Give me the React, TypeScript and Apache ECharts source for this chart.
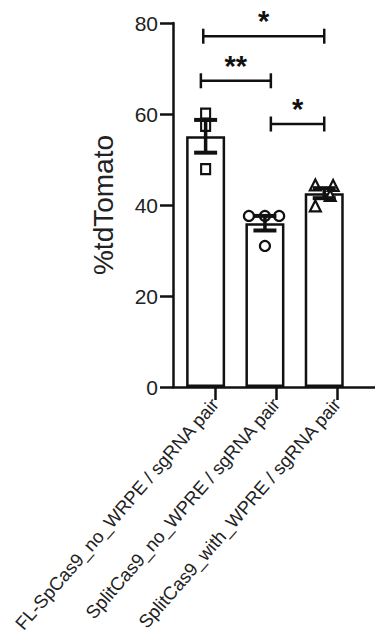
import React, { useEffect, useRef } from "react";
import * as echarts from "echarts";

const categories = [
  "FL-SpCas9_no_WRPE / sgRNA pair",
  "SplitCas9_no_WPRE / sgRNA pair",
  "SplitCas9_with_WPRE / sgRNA pair",
];
const means = [55.1, 36.0, 42.6];
const sems = [3.6, 1.6, 1.1];
const group1Points = [60.1, 57.4, 47.9];
const group2Points = [37.6, 37.6, 37.6, 31.0];
const group3Points = [44.4, 44.3, 39.8, 42.1];
const group1Jitter = [0, 0, 0];
const group2Jitter = [-0.27, 0.24, 0, 0];
const group3Jitter = [-0.15, 0.15, -0.15, 0.1];
const yTicks = [0, 20, 40, 60, 80];
const bracketFrom = [-0.04, -0.08, 1.1];
const bracketTo = [2.0, 1.1, 2.0];
const bracketLevel = [77.1, 67.3, 57.8];
const bracketStars = ["*", "**", "*"];

const FONT = "'Liberation Sans', Arial, Helvetica, sans-serif";
const INK = "#111";
const TEXT = "#222";

export default function App() {
  const ref = useRef<HTMLDivElement>(null);

  useEffect(() => {
    if (!ref.current) return;
    const chart = echarts.init(ref.current, undefined, { renderer: "svg" });

    const bracketData = bracketFrom.map((f, i) => [f, bracketTo[i], bracketLevel[i]]);
    const errData = means.map((m, i) => [i, m, sems[i]]);

    const option: any = {
      animation: false,
      backgroundColor: "#fff",
      textStyle: { fontFamily: FONT },
      grid: [
        { left: 173, right: 0, top: 23, bottom: 253, containLabel: false },
        { left: 184.5, width: 183, top: 23, bottom: 253, containLabel: false },
      ],
      xAxis: [
        {
          type: "value",
          gridIndex: 0,
          min: -0.55,
          max: 2.856,
          axisLine: { show: true, onZero: false, lineStyle: { color: INK, width: 2.5 } },
          axisTick: { show: false },
          axisLabel: { show: false },
          splitLine: { show: false },
        },
        {
          type: "category",
          gridIndex: 1,
          data: categories,
          axisLine: { show: false },
          axisTick: { show: true, alignWithLabel: true, length: 13, lineStyle: { color: INK, width: 2.5 } },
          axisLabel: {
            interval: 0,
            rotate: 49,
            margin: 14,
            fontSize: 18.5,
            color: TEXT,
            fontFamily: FONT,
          },
          splitLine: { show: false },
        },
      ],
      yAxis: [
        {
          type: "value",
          gridIndex: 0,
          min: yTicks[0],
          max: yTicks[yTicks.length - 1],
          interval: yTicks[1] - yTicks[0],
          name: "%tdTomato",
          nameLocation: "middle",
          nameRotate: 90,
          nameGap: 56,
          nameTextStyle: { fontSize: 28, color: TEXT, fontFamily: FONT },
          axisLine: { show: true, onZero: false, lineStyle: { color: INK, width: 2.5 } },
          axisTick: { show: true, length: 13, lineStyle: { color: INK, width: 2.5 } },
          axisLabel: { margin: 15, fontSize: 21, color: TEXT, fontFamily: FONT },
          splitLine: { show: false },
        },
        { type: "value", gridIndex: 1, show: false, min: 0, max: 80 },
      ],
      series: [
        {
          type: "bar",
          xAxisIndex: 0,
          yAxisIndex: 0,
          barWidth: 39,
          z: 2,
          data: means.map((m, i) => [i, m]),
          itemStyle: { color: "#fff", borderColor: INK, borderWidth: 2.5 },
        },
        {
          type: "scatter",
          xAxisIndex: 0,
          yAxisIndex: 0,
          z: 3,
          symbol: "rect",
          symbolSize: [9, 10],
          data: group1Points.map((v, k) => [0 + group1Jitter[k], v]),
          itemStyle: { color: "#fff", borderColor: INK, borderWidth: 2.2, opacity: 1 },
        },
        {
          type: "scatter",
          xAxisIndex: 0,
          yAxisIndex: 0,
          z: 3,
          symbol: "circle",
          symbolSize: 10,
          data: group2Points.map((v, k) => [1 + group2Jitter[k], v]),
          itemStyle: { color: "#fff", borderColor: INK, borderWidth: 2.2, opacity: 1 },
        },
        {
          type: "scatter",
          xAxisIndex: 0,
          yAxisIndex: 0,
          z: 3,
          symbol: "triangle",
          symbolSize: 11,
          data: group3Points.map((v, k) => [2 + group3Jitter[k], v]),
          itemStyle: { color: "#fff", borderColor: INK, borderWidth: 2.2, opacity: 1 },
        },
        {
          type: "custom",
          xAxisIndex: 0,
          yAxisIndex: 0,
          z: 4,
          clip: false,
          encode: { x: 0, y: 1 },
          data: errData,
          renderItem: (params: any, api: any) => {
            const x = api.value(0);
            const m = api.value(1);
            const s = api.value(2);
            const top = api.coord([x, m + s]);
            const bot = api.coord([x, m - s]);
            const half = 11.5;
            const st = { stroke: INK, lineWidth: 4 };
            return {
              type: "group",
              children: [
                { type: "line", shape: { x1: top[0], y1: top[1], x2: bot[0], y2: bot[1] }, style: { stroke: INK, lineWidth: 3.5 } },
                { type: "line", shape: { x1: top[0] - half, y1: top[1], x2: top[0] + half, y2: top[1] }, style: st },
                { type: "line", shape: { x1: bot[0] - half, y1: bot[1], x2: bot[0] + half, y2: bot[1] }, style: st },
              ],
            };
          },
        },
        {
          type: "custom",
          xAxisIndex: 0,
          yAxisIndex: 0,
          z: 4,
          clip: false,
          encode: { x: [0, 1], y: 2 },
          data: bracketData,
          renderItem: (params: any, api: any) => {
            const x1 = api.value(0);
            const x2 = api.value(1);
            const y = api.value(2);
            const p1 = api.coord([x1, y]);
            const p2 = api.coord([x2, y]);
            const cap = 7.5;
            const st = { stroke: INK, lineWidth: 2.5 };
            return {
              type: "group",
              children: [
                { type: "line", shape: { x1: p1[0], y1: p1[1], x2: p2[0], y2: p2[1] }, style: st },
                { type: "line", shape: { x1: p1[0], y1: p1[1] - cap, x2: p1[0], y2: p1[1] + cap }, style: st },
                { type: "line", shape: { x1: p2[0], y1: p2[1] - cap, x2: p2[0], y2: p2[1] + cap }, style: st },
                {
                  type: "text",
                  x: (p1[0] + p2[0]) / 2,
                  y: p1[1] - 15,
                  style: {
                    text: bracketStars[params.dataIndex],
                    fontSize: 29,
                    fontWeight: "bold",
                    fontFamily: FONT,
                    fill: INK,
                    align: "center",
                    verticalAlign: "middle",
                  },
                },
              ],
            };
          },
        },
      ],
    };

    chart.setOption(option);
    return () => chart.dispose();
  }, []);

  return (
    <div
      ref={ref}
      style={{ position: "fixed", left: 0, top: 0, width: 375, height: 640, background: "#fff" }}
    />
  );
}
